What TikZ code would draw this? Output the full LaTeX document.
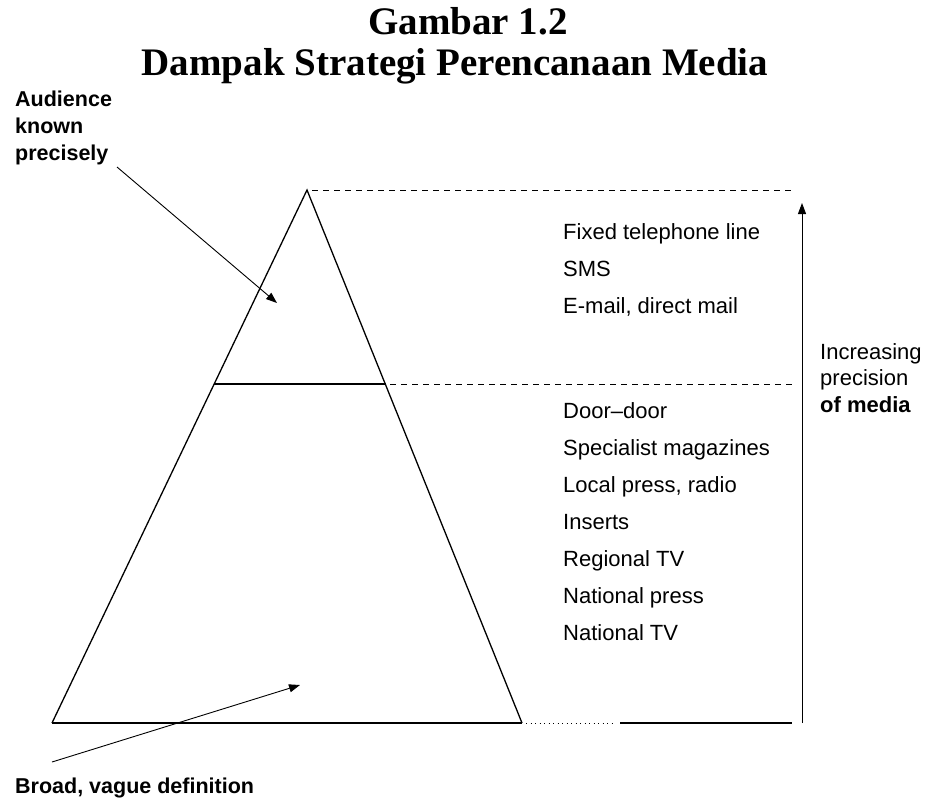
\documentclass[tikz,border=0pt]{standalone}
\usepackage{fontspec}
\setmainfont{Liberation Sans}
\newfontfamily\titlefont{Liberation Serif}
\usetikzlibrary{arrows.meta}
\begin{document}
\begin{tikzpicture}[x=1pt,y=-1pt,
  lbl/.style={anchor=base west,inner sep=0pt,font=\fontsize{22}{27}\selectfont},
  blbl/.style={lbl,font=\fontsize{21.5}{27}\selectfont\bfseries,align=left},
  ttl/.style={inner sep=0pt,font=\fontsize{39}{40}\selectfont\titlefont\bfseries},
  tri/.style={line width=1.3pt},
  dsh/.style={line width=0.9pt,dash pattern=on 6pt off 5pt},
  arr/.style={line width=0.9pt,-{Triangle[length=11pt,width=8pt]}}]
\useasboundingbox (0,0) rectangle (936,800);
% title
\node[ttl,anchor=base] (t1) at (468,35) {Gambar 1.2};
\node[ttl,anchor=base] (t2) at (455,75) {Dampak Strategi Perencanaan Media};
% triangle
\coordinate (apex) at (307,190);
\coordinate (bl) at (52,723);
\coordinate (br) at (522,723);
\coordinate (ml) at (214,384);
\coordinate (mr) at (386,384);
\draw[tri,line join=miter] (bl) -- (apex) -- (br);
\draw[line width=2.4pt] (bl) -- (br);
\draw[line width=1.5pt] (ml) -- (mr);
% dashed guides
\coordinate (td1) at (312,190);
\coordinate (td2) at (795,190);
\coordinate (md1) at (390,384);
\coordinate (md2) at (795,384);
\draw[dsh] (td1) -- (td2);
\draw[dsh] (md1) -- (md2);
\coordinate (bd1) at (526,723);
\coordinate (bd2) at (616,723);
\coordinate (bs1) at (620,723);
\coordinate (bs2) at (792,723);
\draw[line width=0.9pt,dash pattern=on 1pt off 3.5pt] (bd1) -- (bd2);
\draw[line width=1.2pt] (bs1) -- (bs2);
% vertical arrow
\coordinate (va1) at (802,723);
\coordinate (va2) at (802,203);
\draw[arr] (va1) -- (va2);
% right labels
\node[lbl] (l1) at (563,239) {Fixed telephone line};
\node[lbl] (l2) at (563,276) {SMS};
\node[lbl] (l3) at (563,313) {E-mail, direct mail};
\node[lbl] (l4) at (563,418) {Door–door};
\node[lbl] (l5) at (563,455) {Specialist magazines};
\node[lbl] (l6) at (563,492) {Local press, radio};
\node[lbl] (l7) at (563,529) {Inserts};
\node[lbl] (l8) at (563,566) {Regional TV};
\node[lbl] (l9) at (563,603) {National press};
\node[lbl] (l10) at (563,640) {National TV};
\node[lbl,align=left,anchor=north west,font=\fontsize{22}{26.5}\selectfont] (inc) at (820,343)
  {Increasing\\precision\\\textbf{of media}};
% left labels
\node[blbl,anchor=north west] (aud) at (15,91) {Audience\\known\\precisely};
\node[blbl] (brd) at (15,793) {Broad, vague definition};
\coordinate (a1s) at (117,167);
\coordinate (a1e) at (277,303);
\coordinate (a2s) at (52,762);
\coordinate (a2e) at (300,685);
\draw[arr] (a1s) -- (a1e);
\draw[arr] (a2s) -- (a2e);
\end{tikzpicture}
\end{document}
